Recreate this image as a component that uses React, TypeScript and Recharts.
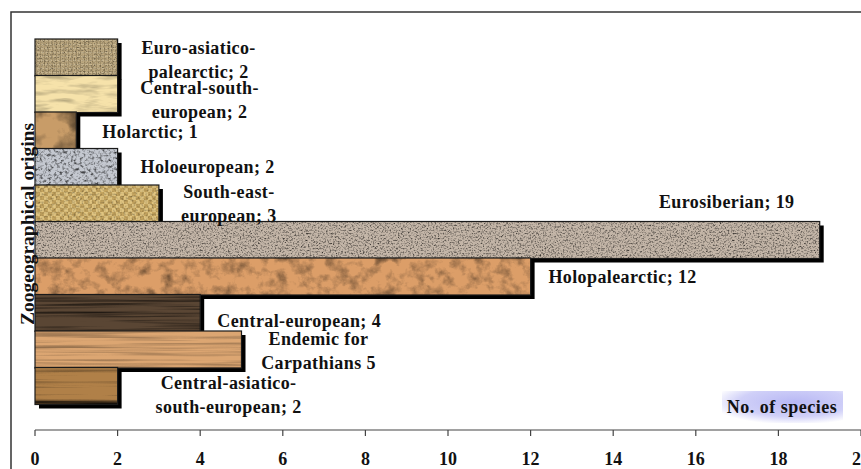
import React from 'react';
import { BarChart, Bar, XAxis, YAxis, LabelList } from 'recharts';

const categories = [
  'Euro-asiatico-palearctic',
  'Central-south-european',
  'Holarctic',
  'Holoeuropean',
  'South-east-european',
  'Eurosiberian',
  'Holopalearctic',
  'Central-european',
  'Endemic for Carpathians',
  'Central-asiatico-south-european',
];

const species = [2, 2, 1, 2, 3, 19, 12, 4, 5, 2];

const labelLines = [
  ['Euro-asiatico-', 'palearctic; 2'],
  ['Central-south-', 'european; 2'],
  ['Holarctic; 1'],
  ['Holoeuropean; 2'],
  ['South-east-', 'european; 3'],
  ['Eurosiberian; 19'],
  ['Holopalearctic; 12'],
  ['Central-european; 4'],
  ['Endemic for', 'Carpathians 5'],
  ['Central-asiatico-', 'south-european; 2'],
];

const xTicks = [0, 2, 4, 6, 8, 10, 12, 14, 16, 18, 20];

const data = categories.map((name, i) => ({ name, value: species[i] }));

// label block offsets from the bar end / band centre (Excel put them by hand)
const labelOffsets = [
  [81, 2.5],
  [82, 5.5],
  [74, 1.5],
  [90, 0],
  [70, 0],
  [-93, -38],
  [92, 0.5],
  [99, 8],
  [77, 1.5],
  [111, 8.5],
];

// bar textures: base colour + turbulence noise
const textures = [
  { color: '#bca880', freq: '0.7', oct: 2, c: 0.6, m: 0.93, pattern: 'grid', po: 0.22 },
  { color: '#f6e2aa', freq: '0.04 0.2', oct: 3, c: 0.3, m: 0.97 },
  { color: '#c89c68', freq: '0.035', oct: 4, c: 0.9, m: 0.92 },
  { color: '#c4c8d0', freq: '0.35', oct: 3, c: 1.0, m: 0.93 },
  { color: '#d8b870', freq: '0.5', oct: 2, c: 0.5, m: 0.93, pattern: 'weave', po: 0.2 },
  { color: '#c4b6a8', freq: '0.6', oct: 3, c: 0.9, m: 0.94 },
  { color: '#dc9e68', freq: '0.08', oct: 4, c: 0.55, m: 0.94 },
  { color: '#5a4634', freq: '0.006 0.4', oct: 3, c: 0.9, m: 0.9 },
  { color: '#dca672', freq: '0.006 0.3', oct: 3, c: 0.5, m: 0.94 },
  { color: '#b08048', freq: '0.004 0.18', oct: 3, c: 1.0, m: 0.92 },
];

const FONT = '"Liberation Serif", "Times New Roman", serif';

function TextureDefs() {
  return (
    <svg width={0} height={0} style={{ position: 'absolute' }}>
      <defs>
        {textures.map((t, i) => {
          const b = t.m - 1.5 * t.c;
          const row = `${t.c} ${t.c} ${t.c} 0 ${b}`;
          return (
            <filter
              key={i}
              id={`tex${i}`}
              x="0"
              y="0"
              width="1"
              height="1"
              colorInterpolationFilters="sRGB"
            >
              <feTurbulence
                type="fractalNoise"
                baseFrequency={t.freq}
                numOctaves={t.oct}
                seed={i * 7 + 3}
                result="n"
              />
              <feColorMatrix in="n" type="matrix" values={`${row} ${row} ${row} 0 0 0 0 1`} result="g" />
              <feBlend in="SourceGraphic" in2="g" mode="multiply" result="m" />
              <feComposite in="m" in2="SourceGraphic" operator="in" />
            </filter>
          );
        })}
        <pattern id="pat-grid" width="4" height="4" patternUnits="userSpaceOnUse">
          <rect x="0" y="0" width="4" height="1" fill="#f4ead0" />
          <rect x="0" y="0" width="1" height="4" fill="#6a5838" />
        </pattern>
        <pattern id="pat-weave" width="8" height="8" patternUnits="userSpaceOnUse">
          <rect x="0" y="0" width="4" height="4" fill="#fff4c0" />
          <rect x="4" y="4" width="4" height="4" fill="#fff4c0" />
          <rect x="0" y="4" width="4" height="4" fill="#7a5a20" />
          <rect x="4" y="0" width="4" height="4" fill="#7a5a20" />
        </pattern>
        <radialGradient id="noSpecies" cx="60%" cy="35%" r="70%">
          <stop offset="0%" stopColor="#b8b8f4" />
          <stop offset="65%" stopColor="#d0d0f8" />
          <stop offset="100%" stopColor="#ffffff" />
        </radialGradient>
      </defs>
    </svg>
  );
}

function TexturedBar(props: any) {
  const { x, y, width, height, index } = props;
  if (!width || width <= 0) return null;
  const t: any = textures[index];
  return (
    <g>
      <rect x={x + 4} y={y + 4} width={width} height={height} fill="#000" />
      <rect x={x} y={y} width={width} height={height} fill={t.color} filter={`url(#tex${index})`} />
      {t.pattern && (
        <rect x={x} y={y} width={width} height={height} fill={`url(#pat-${t.pattern})`} opacity={t.po} />
      )}
      <rect x={x} y={y} width={width} height={height} fill="none" stroke="#1a1a1a" strokeWidth={1.2} />
    </g>
  );
}

function BarLabel(props: any) {
  const { x, y, width, height, index } = props;
  const lines = labelLines[index];
  const [dx, dy] = labelOffsets[index];
  const lh = 24;
  const cx = x + width + dx;
  const start = y + height / 2 + dy - ((lines.length - 1) * lh) / 2;
  return (
    <text
      textAnchor="middle"
      fontFamily={FONT}
      fontWeight="bold"
      fontSize={18}
      letterSpacing={0.4}
      fill="#111"
    >
      {lines.map((l: string, i: number) => (
        <tspan key={i} x={cx} y={start + i * lh + 6}>
          {l}
        </tspan>
      ))}
    </text>
  );
}

export default function App() {
  return (
    <div style={{ position: 'absolute', left: 0, top: 0, width: 861, height: 469, background: '#fff' }}>
      <TextureDefs />
      <BarChart
        width={861}
        height={469}
        data={data}
        layout="vertical"
        margin={{ top: 39, right: 0, bottom: 0, left: 35 }}
        barCategoryGap={0}
      >
        <XAxis
          type="number"
          domain={[0, 20]}
          ticks={xTicks}
          height={39}
          axisLine={{ stroke: '#444', strokeWidth: 1.2 }}
          tickLine={{ stroke: '#444', strokeWidth: 1.2 }}
          tickSize={6}
          tickMargin={16}
          interval={0}
          tick={{ fontFamily: FONT, fontWeight: 'bold', fontSize: 18, fill: '#111' }}
        />
        <YAxis type="category" dataKey="name" hide padding={{ top: 0, bottom: 26 }} />
        <Bar dataKey="value" shape={<TexturedBar />} isAnimationActive={false}>
          <LabelList dataKey="value" content={<BarLabel />} />
        </Bar>
      </BarChart>
      <svg
        width={861}
        height={469}
        style={{ position: 'absolute', left: 0, top: 0, pointerEvents: 'none' }}
      >
        <rect x={11} y={12} width={900} height={500} fill="none" stroke="#333" strokeWidth={1.5} />
        <text
          x={33.5}
          y={224}
          transform="rotate(-90, 33.5, 224)"
          textAnchor="middle"
          fontFamily={FONT}
          fontWeight="bold"
          fontSize={19.5}
          fill="#111"
        >
          Zoogeographical origins
        </text>
        <rect x={722} y={391} width={121} height={32} fill="url(#noSpecies)" />
        <text
          x={782}
          y={413}
          textAnchor="middle"
          fontFamily={FONT}
          fontWeight="bold"
          fontSize={18}
          letterSpacing={0.5}
          fill="#111"
        >
          No. of species
        </text>
      </svg>
    </div>
  );
}
